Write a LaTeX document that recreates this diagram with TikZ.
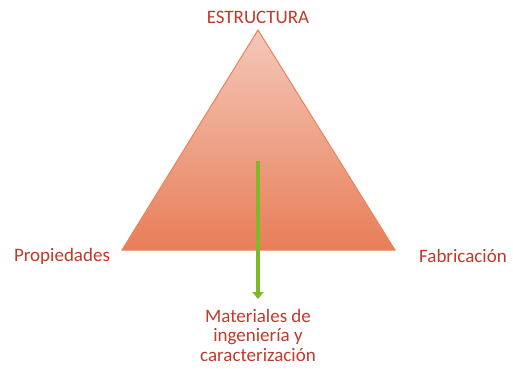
\documentclass[tikz,border=0pt]{standalone}
\usepackage{fontspec}
\setmainfont{Carlito}
\usepackage{tikz}
\usetikzlibrary{positioning,arrows.meta}

\definecolor{titlered}{RGB}{192,57,43}
\definecolor{topfill}{RGB}{244,200,186}
\definecolor{basefill}{RGB}{232,126,88}
\definecolor{edgeorange}{RGB}{236,130,90}
\definecolor{arrowgreen}{RGB}{126,186,40}

\tikzset{tagtext/.style={text=titlered,font=\fontsize{19}{23}\selectfont,align=center,inner sep=0pt}}

\begin{document}
\begin{tikzpicture}[x=1pt,y=-1pt]
\useasboundingbox (0,0) rectangle (513,368);

\coordinate (apex) at (258,30);
\coordinate (left) at (122,250);
\coordinate (right) at (395,250);

\shade[top color=topfill,bottom color=basefill,draw=edgeorange,line width=1pt] (apex) -- (right) -- (left) -- cycle;

\node[tagtext] (estructura) at (258,17) {ESTRUCTURA};
\node[tagtext] (propiedades) at (62,256) {Propiedades};
\node[tagtext] (fabricacion) at (463,256) {Fabricación};
\node[tagtext,font=\fontsize{19}{19.5}\selectfont] (materiales) at (258,335) {Materiales de\\ingeniería y\\caracterización};

\coordinate (arrowtop) at (258,161);
\coordinate (arrowtip) at (258,299);
\draw[arrowgreen,line width=3.5pt,-{Triangle[length=7pt,width=11pt]}] (arrowtop) -- (arrowtip);
\end{tikzpicture}
\end{document}
